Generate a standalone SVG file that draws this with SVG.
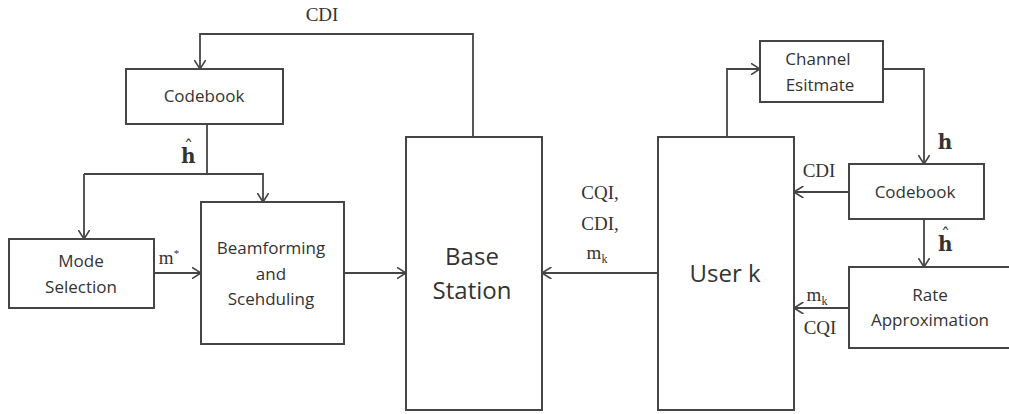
<svg xmlns="http://www.w3.org/2000/svg" width="1009" height="414" viewBox="0 0 1009 414">
<defs>
<style>
.box{fill:#fff;stroke:#454545;stroke-width:2}
.ln{fill:none;stroke:#454545;stroke-width:1.8}
.arr{marker-end:url(#ah)}
.t{font-family:"Open Sans","Noto Sans",sans-serif;font-size:17px;fill:#333;text-anchor:middle}
.tb{font-family:"Open Sans","Noto Sans",sans-serif;font-size:24px;fill:#333;text-anchor:middle}
.s{font-family:"Liberation Serif","DejaVu Serif",serif;font-size:19px;fill:#333;text-anchor:middle}
.hb{font-family:"DejaVu Serif","Liberation Serif",serif;font-size:20px;font-weight:bold;fill:#333;text-anchor:middle}
.hs{font-family:"DejaVu Serif","Liberation Serif",serif;font-size:20px;font-weight:bold;fill:#333}
.hat{font-size:18px;font-weight:normal}
</style>
<marker id="ah" viewBox="0 0 10 12" refX="9.5" refY="6" markerWidth="10" markerHeight="12" markerUnits="userSpaceOnUse" orient="auto">
<path d="M0,0 L9.5,6 L0,12" fill="none" stroke="#454545" stroke-width="1.6"/>
</marker>
</defs>
<rect width="1009" height="414" fill="#fff"/>
<g id="connectors">
<path class="ln arr" d="M473,137 V34 H200 V69"/>
<path class="ln" d="M207,124 V174"/>
<path class="ln arr" d="M84,174 H263 V202"/>
<path class="ln arr" d="M84,174 V239"/>
<path class="ln arr" d="M154,273 H201"/>
<path class="ln arr" d="M344,273 H406"/>
<path class="ln arr" d="M658,273 H542"/>
<path class="ln arr" d="M727,137 V69 H760"/>
<path class="ln arr" d="M883,69 H924 V164"/>
<path class="ln arr" d="M849,192 H794"/>
<path class="ln arr" d="M924,219 V267"/>
<path class="ln arr" d="M849,308 H794"/>
<text class="s" x="322" y="21">CDI</text>
<text class="hs" x="181" y="163">h<tspan class="hat" dx="-11.5" dy="-9">ˆ</tspan></text>
<text class="s" x="169" y="264">m<tspan font-size="11" dy="-7">*</tspan></text>
<text class="s" x="600" y="199">CQI,</text>
<text class="s" x="600" y="230">CDI,</text>
<text class="s" x="597" y="259">m<tspan font-size="12" dy="4">k</tspan></text>
<text class="s" x="819" y="177">CDI</text>
<text class="hb" x="945" y="149">h</text>
<text class="hs" x="938" y="251">h<tspan class="hat" dx="-11.5" dy="-9">ˆ</tspan></text>
<text class="s" x="817" y="301">m<tspan font-size="12" dy="4">k</tspan></text>
<text class="s" x="820" y="334">CQI</text>
</g>
<g id="codebook-bs">
<rect class="box" x="126" y="69" width="157" height="55"/>
<text class="t" x="204" y="102">Codebook</text>
</g>
<g id="mode-selection">
<rect class="box" x="9" y="239" width="145" height="69"/>
<text class="t" x="81" y="267">Mode</text>
<text class="t" x="81" y="293">Selection</text>
</g>
<g id="beamforming">
<rect class="box" x="201" y="202" width="143" height="142"/>
<text class="t" x="271" y="254">Beamforming</text>
<text class="t" x="271" y="280">and</text>
<text class="t" x="271" y="305">Scehduling</text>
</g>
<g id="base-station">
<rect class="box" x="406" y="137" width="136" height="273"/>
<text class="tb" x="472" y="265">Base</text>
<text class="tb" x="472" y="299">Station</text>
</g>
<g id="user-k">
<rect class="box" x="658" y="137" width="136" height="273"/>
<text class="tb" x="725" y="282">User k</text>
</g>
<g id="channel-estimate">
<rect class="box" x="760" y="41" width="123" height="61"/>
<text class="t" x="818" y="65">Channel</text>
<text class="t" x="820" y="91">Esitmate</text>
</g>
<g id="codebook-user">
<rect class="box" x="849" y="164" width="135" height="55"/>
<text class="t" x="915" y="198">Codebook</text>
</g>
<g id="rate-approximation">
<rect class="box" x="849" y="267" width="170" height="81"/>
<text class="t" x="930" y="301">Rate</text>
<text class="t" x="930" y="326">Approximation</text>
</g>
</svg>
